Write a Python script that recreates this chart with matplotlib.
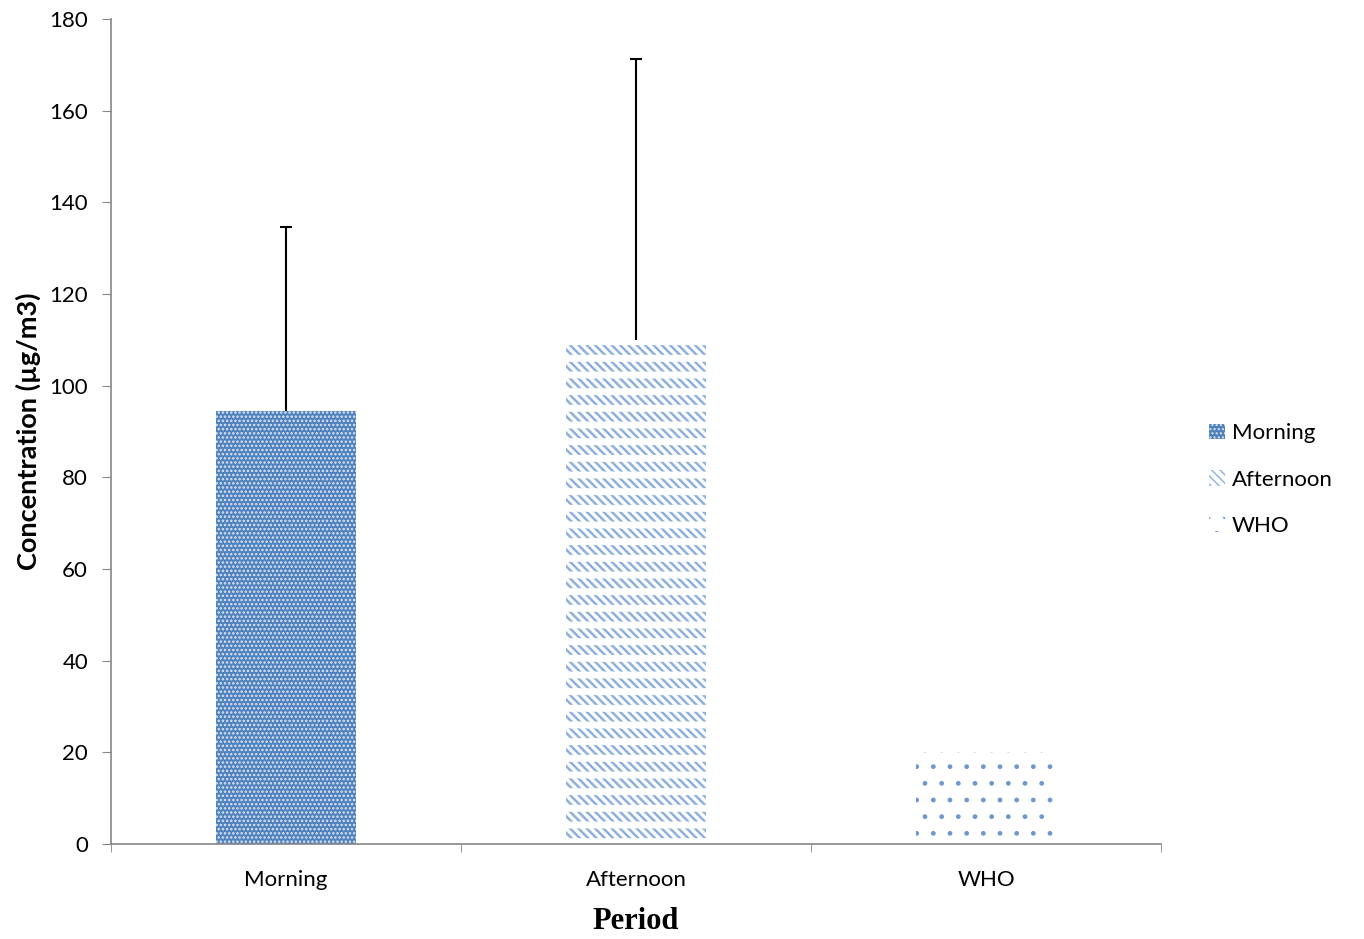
import numpy as np
import matplotlib
matplotlib.use('Agg')
from matplotlib import pyplot as plt
from matplotlib.patches import Patch

periods = ['Morning', 'Afternoon', 'WHO']
concentration = [94.5, 110.0, 20.0]
err_upper = [40.2, 61.3, 0.0]

plt.rcParams['font.family'] = ['Lato', 'DejaVu Sans']

blue = '#4f81bd'
light = '#8eb0dc'

fig = plt.figure(figsize=(13.64, 9.39), dpi=100)
ax = fig.add_axes([0.0814, 0.1012, 0.7698, 0.8786])

x = np.arange(len(periods))
styles = [
    dict(facecolor=blue, edgecolor='#dbe6f4', hatch='....'),
    dict(facecolor='white', edgecolor=light, hatch='\\\\\\\\'),
    dict(facecolor='white', edgecolor='#6f98cc', hatch='.'),
]
hatch_lw = [1.2, 1.8, 1.0]
for i in range(len(periods)):
    with plt.rc_context({'hatch.linewidth': hatch_lw[i]}):
        ax.bar(x[i], concentration[i], width=0.4, linewidth=0, **styles[i])

# white horizontal bands cut the afternoon diagonals into rows of dashes
with plt.rc_context({'hatch.linewidth': 5.0}):
    ax.bar(x[1], concentration[1], width=0.4, linewidth=0,
           facecolor='none', edgecolor='white', hatch='-')

# upper-only error bars (no bar for the guideline value)
tops = np.array(concentration) + np.array(err_upper)
has_err = np.array(err_upper) > 0
ax.vlines(x[has_err], np.array(concentration)[has_err], tops[has_err],
          color='black', linewidth=1.5)
ax.plot(x[has_err], tops[has_err], ls='none', marker='_', ms=9, mew=1.5,
        color='black')

ax.set_xlim(-0.5, 2.5)
ax.set_ylim(0, 180)
ax.set_yticks(np.arange(0, 181, 20))
ax.set_xticks(x)
ax.set_xticklabels(periods, fontsize=16)
ax.set_xticks([-0.5, 0.5, 1.5, 2.5], minor=True)
ax.tick_params(axis='x', which='major', length=0, pad=19)
ax.tick_params(axis='x', which='minor', length=6, color='#868686', direction='out')
ax.tick_params(axis='y', labelsize=16, length=6.5, pad=10, color='#868686',
               direction='out')
for s in ['top', 'right']:
    ax.spines[s].set_visible(False)
for s in ['left', 'bottom']:
    ax.spines[s].set_color('#868686')
    ax.spines[s].set_linewidth(1.2)

ax.set_ylabel('Concentration (µg/m3)', fontsize=19.5, fontweight='bold', labelpad=6)
ax.set_xlabel('Period', fontsize=22, fontweight='bold', family='Liberation Serif',
              labelpad=12)

handles = [Patch(linewidth=0, **styles[i]) for i in range(3)]
fig.legend(handles, periods, loc='center left', bbox_to_anchor=(0.872, 0.489),
           frameon=False, fontsize=16, handlelength=0.7, handleheight=0.7,
           handletextpad=0.3, labelspacing=1.2)

fig.savefig('out.png', dpi=100)
